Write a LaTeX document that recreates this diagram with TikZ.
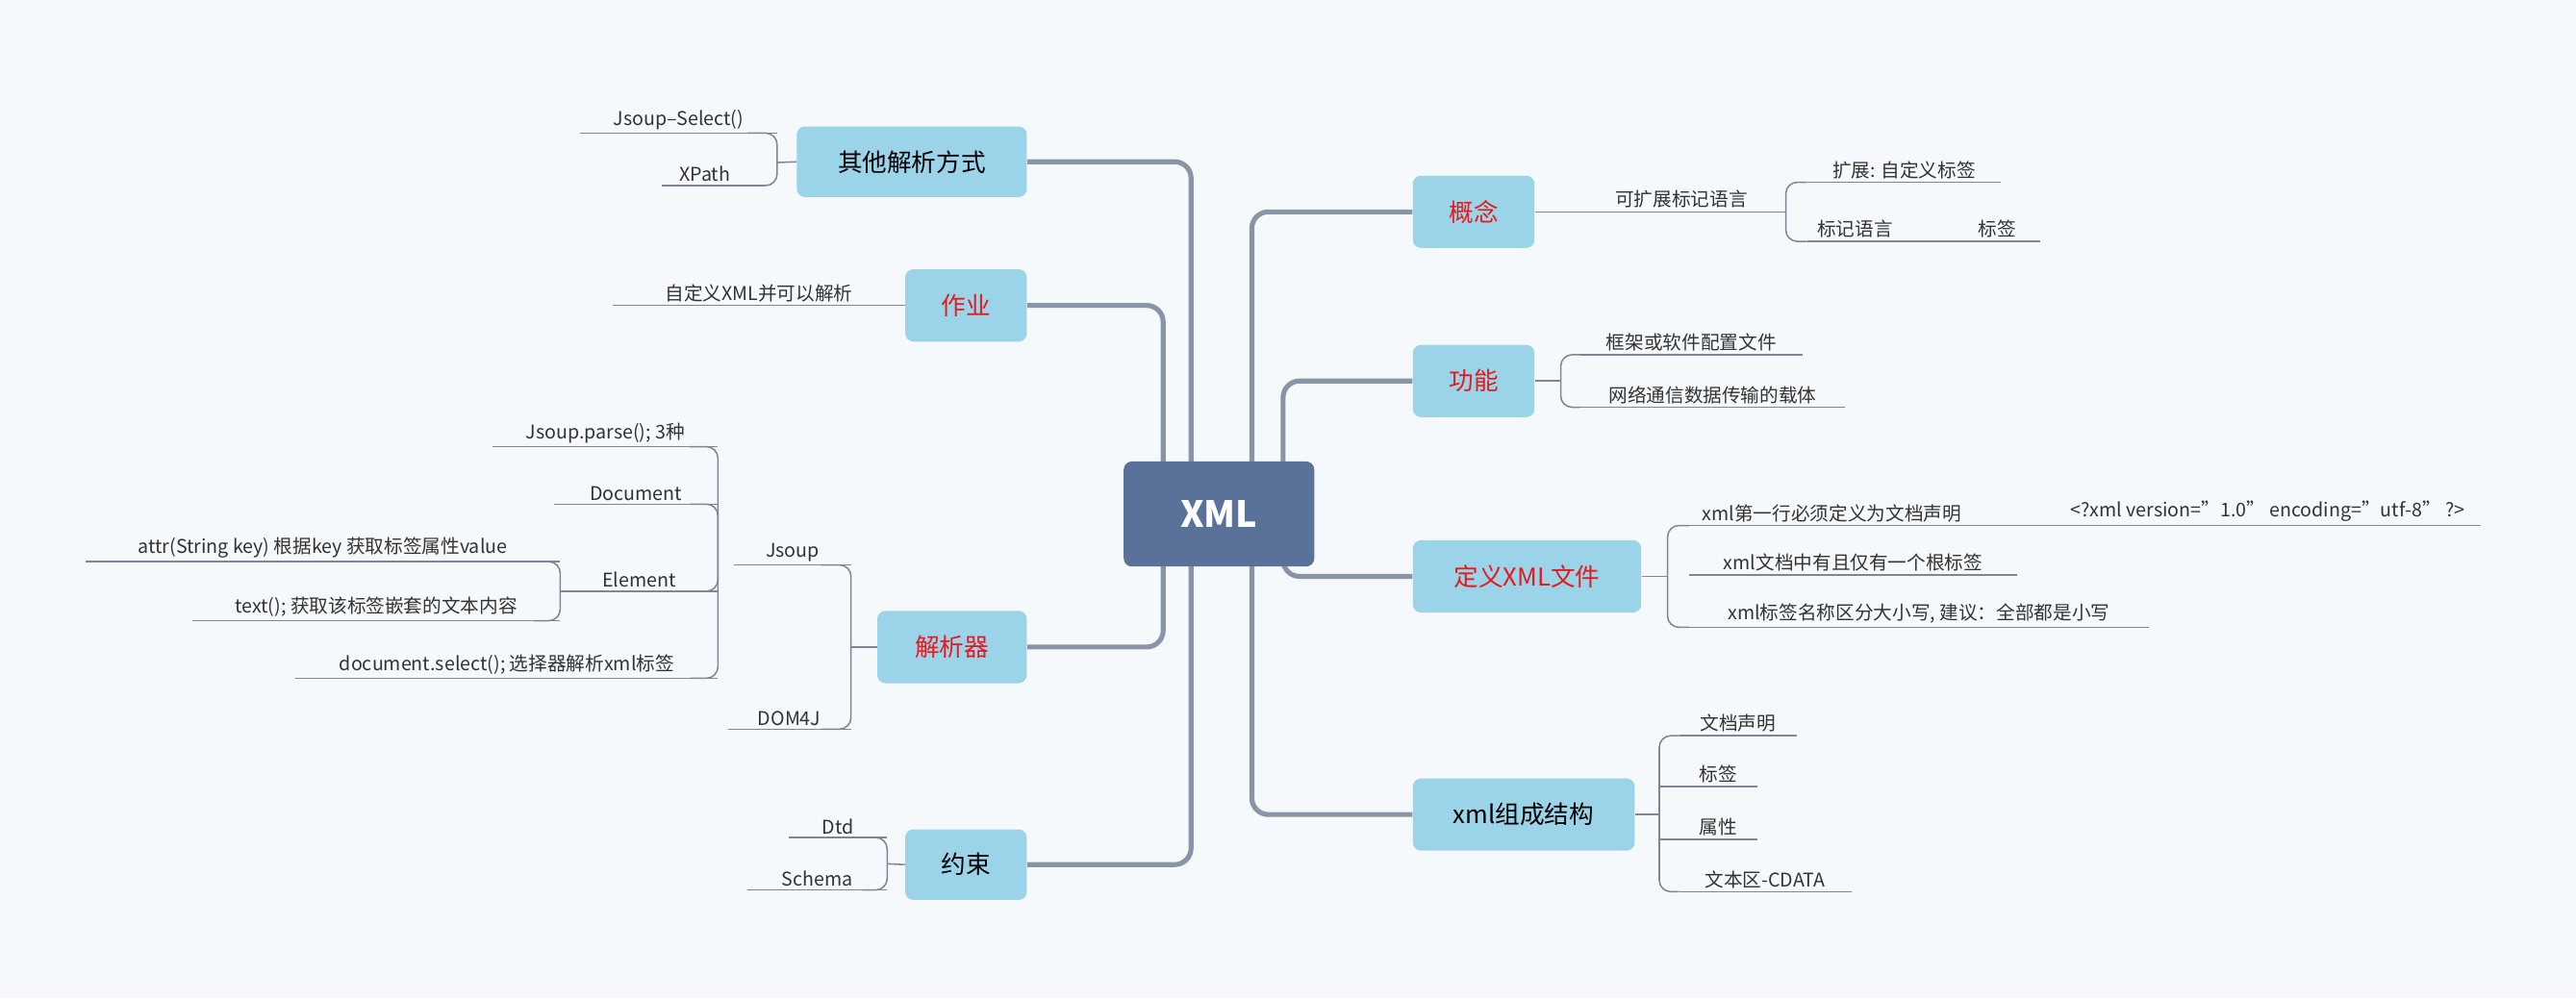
\documentclass[tikz,border=0pt]{standalone}
\usepackage{fontspec}
\setmainfont{Noto Sans CJK SC}
\begin{document}
\begin{tikzpicture}[x=1pt,y=-1pt]
\definecolor{bg}{HTML}{F5F9FC}
\definecolor{nodefill}{HTML}{9BD3E8}
\definecolor{center}{HTML}{5A7199}
\definecolor{trunk}{HTML}{8A94A8}
\definecolor{thin}{HTML}{7E879A}
\definecolor{redt}{HTML}{E8191C}
\tikzset{
 main/.style={fill=nodefill,rounded corners=5pt,font=\fontsize{15}{18}\selectfont,inner sep=0pt},
 trunkline/.style={draw=trunk,line width=3pt,rounded corners=10pt},
 leafline/.style={draw=thin,line width=0.9pt,rounded corners=7pt},
 leaftext/.style={font=\fontsize{11.5}{13}\selectfont,text=black!80,inner sep=2pt}
}
\newcommand\leaf[5]{\draw[leafline] (#2,#4) -- (#3,#4);
 \node[leaftext,anchor=south] (#1) at ({(#2+#3)/2},#4) {#5};}
\fill[bg] (0,0) rectangle (1568,608);
\useasboundingbox (0,0) rectangle (1568,608);
% trunk lines first
\coordinate (rt1) at (762,281); \coordinate (rt2) at (781,281);
\coordinate (rb1) at (762,345); \coordinate (rb2) at (781,345);
\coordinate (lt1) at (725,281); \coordinate (lt2) at (708,281);
\coordinate (lb1) at (725,345); \coordinate (lb2) at (708,345);
\node[main,minimum width=74pt,minimum height=44pt] (gn) at (897,129) {\textcolor{redt}{概念}};
\node[main,minimum width=74pt,minimum height=44pt] (gong) at (897,232) {\textcolor{redt}{功能}};
\node[main,minimum width=139pt,minimum height=44pt] (def) at (929.5,351) {\textcolor{redt}{定义XML文件}};
\node[main,minimum width=135pt,minimum height=44pt] (zc) at (927.5,496) {xml组成结构};
\node[main,minimum width=140pt,minimum height=43pt] (qt) at (555,98.5) {其他解析方式};
\node[main,minimum width=74pt,minimum height=44pt] (zy) at (588,186) {\textcolor{redt}{作业}};
\node[main,minimum width=91pt,minimum height=44pt] (jx) at (579.5,394) {\textcolor{redt}{解析器}};
\node[main,minimum width=74pt,minimum height=43pt] (ys) at (588,526.5) {约束};
\draw[trunkline] (rt1) |- (gn.west);
\draw[trunkline] (rt2) |- (gong.west);
\draw[trunkline] (rb2) |- (def.west);
\draw[trunkline] (rb1) |- (zc.west);
\draw[trunkline] (lt1) |- (qt.east);
\draw[trunkline] (lt2) |- (zy.east);
\draw[trunkline] (lb2) |- (jx.east);
\draw[trunkline] (lb1) |- (ys.east);
\node[fill=center,rounded corners=5pt,minimum width=116pt,minimum height=64pt,text=white,font=\fontsize{22}{26}\selectfont\bfseries] (xml) at (742,313) {XML};
% 概念
\leaf{kz}{960}{1087}{129}{可扩展标记语言}
\draw[leafline] (gn.east) -- (kz.south west |- 0,129);
\leaf{kz1}{1100}{1218}{111}{扩展: 自定义标签}
\draw[leafline] (1087,129) |- (1100,111);
\draw[leafline] (1100,147) -- (1242,147);
\node[leaftext,anchor=south west] (kz2) at (1104,147) {标记语言};
\node[leaftext,anchor=south west] (kz3) at (1202,147) {标签};
\draw[leafline] (1087,129) |- (1100,147);
% 功能
\leaf{g1}{962}{1097}{216}{框架或软件配置文件}
\leaf{g2}{962}{1123}{248}{网络通信数据传输的载体}
\draw[leafline] (gong.east) -- (950,232);
\draw[leafline] (950,232) |- (962,216);
\draw[leafline] (950,232) |- (962,248);
% 定义
\draw[leafline] (1028,320) -- (1510,320);
\node[leaftext,anchor=south west] (d1) at (1034,320) {xml第一行必须定义为文档声明};
\node[leaftext,anchor=south west] (d1b) at (1258,320) {<?xml version="1.0" encoding="utf-8" ?>};
\leaf{d2}{1028}{1228}{350}{xml文档中有且仅有一个根标签}
\leaf{d3}{1028}{1308}{382}{xml标签名称区分大小写, 建议：全部都是小写}
\draw[leafline] (def.east) -- (1015,351);
\draw[leafline] (1015,351) |- (1028,320);
\draw[leafline] (1015,351) |- (1028,382);
% 组成结构
\leaf{z1}{1022}{1094}{448}{文档声明}
\leaf{z2}{1022}{1070}{479}{标签}
\leaf{z3}{1022}{1070}{511}{属性}
\leaf{z4}{1022}{1127}{543}{文本区-CDATA}
\draw[leafline] (zc.east) -- (1010,496);
\draw[leafline] (1010,496) |- (1022,448);
\draw[leafline] (1010,496) |- (1022,543);
\draw[leafline] (1010,479) -- (1022,479);
\draw[leafline] (1010,511) -- (1022,511);
% 其他
\leaf{q1}{353}{473}{81}{Jsoup--Select()}
\leaf{q2}{403}{455}{113}{XPath}
\draw[leafline] (qt.west) -- (473,99);
\draw[leafline] (473,99) |- (455,81);
\draw[leafline] (473,99) |- (455,113);
% 作业
\leaf{zy1}{373}{551}{186}{自定义XML并可以解析}
% 解析器
\leaf{jsoup}{447}{518}{344}{Jsoup}
\leaf{dom}{443}{518}{444}{DOM4J}
\draw[leafline] (jx.west) -- (534,394) -- (518,394);
\draw[leafline] (518,394) |- (500,344);
\draw[leafline] (518,394) |- (500,444);
\leaf{j1}{300}{437}{272}{Jsoup.parse(); 3种}
\leaf{j2}{337}{437}{307}{Document}
\leaf{j3}{341}{437}{360}{Element}
\leaf{j4}{180}{437}{413}{document.select(); 选择器解析xml标签}
\draw[leafline] (437,344) |- (420,272);
\draw[leafline] (437,344) |- (420,413);
\draw[leafline] (437,344) |- (420,307);
\draw[leafline] (437,344) |- (420,360);
\leaf{e1}{52}{341}{342}{attr(String key) 根据key 获取标签属性value}
\leaf{e2}{117}{341}{378}{text(); 获取该标签嵌套的文本内容}
\draw[leafline] (341,360) |- (325,342);
\draw[leafline] (341,360) |- (325,378);
% 约束
\leaf{y1}{480}{540}{510}{Dtd}
\leaf{y2}{455}{540}{542}{Schema}
\draw[leafline] (ys.west) -- (540,526);
\draw[leafline] (540,526) |- (525,510);
\draw[leafline] (540,526) |- (525,542);
\end{tikzpicture}
\end{document}
